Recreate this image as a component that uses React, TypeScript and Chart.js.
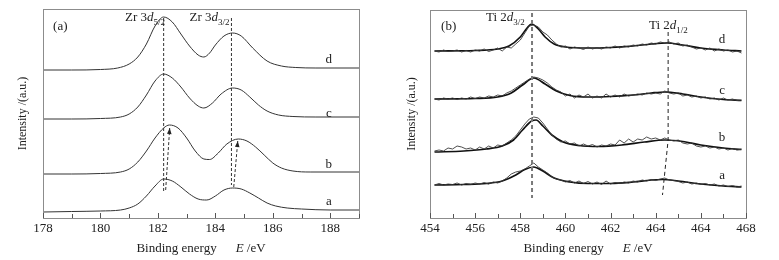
import React, { useEffect, useRef } from "react";
import { Chart, registerables } from "chart.js";
Chart.register(...registerables);

const FONT = '"Liberation Serif", "Times New Roman", serif';

// ---------- Panel (a): Zr 3d ----------
const zrTickLabels = ["178", "180", "182", "184", "186", "188"];
const zrCurveA: [number, number][] = [
  [178, 6], [179, 6.5], [180, 7], [180.7, 8], [181, 10], [181.3, 14], [181.6, 22], [181.9, 32], [182.2, 39],
  [182.5, 37], [182.8, 31], [183.1, 24], [183.4, 19], [183.7, 18], [184.0, 22], [184.3, 28], [184.6, 30],
  [184.9, 29], [185.2, 25], [185.5, 20], [185.8, 15], [186.1, 12], [186.5, 10], [187, 9], [188, 8], [189, 8],
];
const zrCurveB: [number, number][] = [
  [178, 44], [179, 44], [180, 44.5], [180.7, 46], [181, 49], [181.3, 56], [181.6, 67], [181.9, 80], [182.2, 90],
  [182.4, 93], [182.7, 90], [183.0, 80], [183.3, 67], [183.6, 59], [183.8, 58.5], [184.1, 65], [184.4, 74],
  [184.8, 79], [185.1, 77], [185.4, 71], [185.7, 63], [186.0, 55], [186.3, 50], [186.7, 47], [187.3, 46], [189, 46],
];
const zrCurveC: [number, number][] = [
  [178, 99], [179, 99], [180, 99.5], [180.7, 101], [181, 104], [181.3, 111], [181.6, 123], [181.9, 137], [182.2, 144],
  [182.5, 140], [182.8, 131], [183.1, 120], [183.4, 112], [183.6, 110], [183.9, 115], [184.2, 124], [184.6, 130],
  [184.9, 128], [185.2, 121], [185.5, 113], [185.8, 107], [186.2, 103], [186.7, 101.5], [187.5, 101], [189, 101],
];
const zrCurveD: [number, number][] = [
  [178, 148], [179, 148], [180, 148.5], [180.6, 150], [181, 154], [181.3, 161], [181.6, 174], [181.9, 192], [182.2, 201],
  [182.5, 196], [182.8, 184], [183.1, 172], [183.4, 163], [183.6, 161], [183.8, 165], [184.0, 173], [184.3, 182],
  [184.6, 185], [184.9, 182], [185.3, 170], [185.8, 157], [186.3, 152], [186.8, 150.5], [187.5, 150], [189, 150],
];
const zrGuideLeft: [number, number][] = [[182.2, 200], [182.2, 26]];
const zrGuideRight: [number, number][] = [[184.56, 200], [184.56, 33]];
const zrArrowLeft: [number, number][] = [[182.27, 28], [182.41, 90]];
const zrArrowRight: [number, number][] = [[184.64, 31], [184.78, 77]];

// ---------- Panel (b): Ti 2d ----------
const tiTickLabels = ["454", "456", "458", "460", "462", "464", "464", "468"];
const tiEnergy = [
  454.2, 454.4, 454.6, 454.8, 455.0, 455.2, 455.4, 455.6, 455.8, 456.0, 456.2, 456.4, 456.6, 456.8, 457.0, 457.2,
  457.4, 457.6, 457.8, 458.0, 458.2, 458.4, 458.6, 458.8, 459.0, 459.2, 459.4, 459.6, 459.8, 460.0, 460.2, 460.4,
  460.6, 460.8, 461.0, 461.2, 461.4, 461.6, 461.8, 462.0, 462.2, 462.4, 462.6, 462.8, 463.0, 463.2, 463.4, 463.6,
  463.8, 464.0, 464.2, 464.4, 464.6, 464.8, 465.0, 465.2, 465.4, 465.6, 465.8, 466.0, 466.2, 466.4, 466.6, 466.8,
  467.0, 467.2, 467.4, 467.6, 467.8,
];
const tiRawA = [
  33, 34.5, 33, 34, 33.5, 35, 33, 34.5, 33.5, 35, 34, 35.5, 34, 36, 35, 37,
  40, 44, 46, 47, 49, 52, 55, 51, 48, 45, 41, 39, 38, 36, 37.5, 35,
  37, 34.5, 36.5, 34, 36, 33.5, 37, 34, 35.5, 34.5, 36, 35, 37, 36,
  38, 37, 38.5, 37.5, 39, 40, 38, 37.5, 36.5, 35, 36, 34, 35, 33.5,
  34.5, 33, 34, 32, 33, 31.5, 32.5, 31, 32,
];
const tiRawB = [
  67, 68, 67, 70, 69, 72, 71, 69, 70, 68, 71, 69, 72, 70, 73, 72,
  75, 78, 82, 88, 94, 99, 101, 100, 95, 89, 83, 79, 76, 77, 74, 75,
  72, 74, 72, 73.5, 71, 73, 72, 74, 73, 78, 75, 79, 76, 79,
  78, 81, 79, 80, 78, 80, 78, 77, 78, 75, 74, 75, 72, 71,
  72, 70, 71, 69, 70, 68, 69.5, 68, 69,
];
const tiRawC = [
  119, 118, 120, 119, 120, 118.5, 120, 119, 121, 119.5, 121, 120, 122, 121, 123, 122,
  125, 127, 130, 133, 136, 139, 141, 140, 138, 135, 131, 128, 126, 122, 124, 120,
  123, 121, 124, 120, 122, 120, 124, 121, 123, 121, 124, 122, 123, 124,
  123, 125, 124, 125, 124, 127, 125, 124, 125, 122, 123, 121, 122, 120,
  121, 119, 120, 118, 120, 118, 119, 117.5, 118,
];
const tiRawD = [
  167, 166, 168, 166.5, 167, 168, 166, 167.5, 166, 168, 167, 169, 166.5, 168, 170, 167,
  171, 170, 174, 178, 185, 192, 193, 191, 186, 183, 178, 174, 171, 172, 169, 171,
  170, 168.5, 171, 169, 170.5, 169, 171, 170, 172, 170, 172, 171, 173, 172,
  174, 173, 175, 174, 176, 175, 176, 174, 175, 172, 173, 171, 169, 170,
  168, 170, 167, 169, 167, 168, 166, 167, 165,
];
const tiFitA: [number, number][] = [
  [454.2, 33], [455.5, 33.5], [456.5, 34.5], [457.2, 37], [457.8, 43], [458.2, 48.5], [458.6, 51], [459.0, 47],
  [459.5, 40], [460.2, 36], [461, 34.5], [462, 34.5], [463, 36], [463.8, 38], [464.3, 38.5], [465, 37], [466, 34],
  [467, 32], [467.8, 31],
];
const tiFitB: [number, number][] = [
  [454.2, 66], [455.5, 67], [456.5, 69], [457.2, 72], [457.7, 78], [458.1, 88], [458.5, 97], [458.7, 98], [459.0, 92],
  [459.4, 83], [459.9, 76], [460.6, 72.5], [461.5, 71.5], [462.5, 73], [463.5, 76], [464.4, 78], [465.2, 76.5],
  [466, 73], [467, 70], [467.8, 68.5],
];
const tiFitC: [number, number][] = [
  [454.2, 119], [456, 119.5], [457, 121], [457.6, 125], [458.1, 133], [458.6, 140], [459.1, 134], [459.6, 127],
  [460.2, 122.5], [461, 121], [462, 121.5], [463, 123], [463.8, 125], [464.4, 126], [465.2, 124], [466, 121],
  [467, 118.5], [467.8, 117.5],
];
const tiFitD: [number, number][] = [
  [454.2, 167], [456, 167.5], [457, 169], [457.5, 172], [458, 181], [458.3, 190], [458.5, 194], [458.8, 189],
  [459.1, 181], [459.5, 174], [460, 171], [461, 170], [462, 170.5], [463, 172], [463.8, 174], [464.5, 175],
  [465.2, 173], [466, 170], [467, 168], [467.8, 167],
];
const tiGuideLeft: [number, number][] = [[458.52, 205], [458.52, 20]];
const tiGuideRight: [number, number][] = [[464.55, 186], [464.55, 78], [464.3, 23]];

// ---------- drawing helpers ----------
type Part = [string, "n" | "i" | "s"];
type Txt = { x: number; y: number; parts: Part[]; align: "left" | "right" | "center" };
type Guide = { pts: [number, number][]; color: string; width: number; dash: number[]; arrow?: boolean };
type Curve = { pts: { x: number; y: number }[]; color: string; width: number; smooth: boolean };

interface PanelCfg {
  xMin: number;
  xMax: number;
  yMax: number;
  padTop: number;
  padRight: number;
  yWidth: number;
  tickLabel: (v: number) => string;
  curves: Curve[];
  guides: Guide[];
  texts: Txt[];
}

const fontFor = (s: string, size: number) =>
  s === "i" ? `italic ${size}px ${FONT}` : s === "s" ? `${Math.round(size * 0.68)}px ${FONT}` : `${size}px ${FONT}`;

function drawRich(ctx: CanvasRenderingContext2D, parts: Part[], x: number, yc: number, align: string, size: number) {
  let total = 0;
  const widths = parts.map(([t, s]) => {
    ctx.font = fontFor(s, size);
    const w = ctx.measureText(t).width;
    total += w;
    return w;
  });
  let cx = align === "right" ? x - total : align === "center" ? x - total / 2 : x;
  const base = yc + size * 0.33;
  ctx.textBaseline = "alphabetic";
  ctx.textAlign = "left";
  parts.forEach(([t, s], i) => {
    ctx.font = fontFor(s, size);
    ctx.fillText(t, cx, s === "s" ? base + size * 0.25 : base);
    cx += widths[i];
  });
}

function decorPlugin(cfg: PanelCfg) {
  return {
    id: "decor",
    afterDraw(chart: any) {
      const ctx: CanvasRenderingContext2D = chart.ctx;
      const { left, right, top, bottom } = chart.chartArea;
      const xs = chart.scales.x;
      const ys = chart.scales.y;
      ctx.save();
      // frame
      ctx.strokeStyle = "#8c8c8c";
      ctx.lineWidth = 1;
      ctx.strokeRect(Math.round(left) + 0.5, Math.round(top) + 0.5, Math.round(right - left), Math.round(bottom - top));
      // inward ticks
      ctx.strokeStyle = "#555";
      for (let v = Math.ceil(cfg.xMin); v <= cfg.xMax; v++) {
        const px = Math.round(xs.getPixelForValue(v)) + 0.5;
        const len = v % 2 === 0 ? 5 : 4;
        ctx.beginPath();
        ctx.moveTo(px, bottom);
        ctx.lineTo(px, bottom - len);
        ctx.stroke();
      }
      // arrow heads
      ctx.fillStyle = "#222";
      cfg.guides.forEach((g) => {
        if (!g.arrow) return;
        const n = g.pts.length;
        const x1 = xs.getPixelForValue(g.pts[n - 2][0]);
        const y1 = ys.getPixelForValue(g.pts[n - 2][1]);
        const x2 = xs.getPixelForValue(g.pts[n - 1][0]);
        const y2 = ys.getPixelForValue(g.pts[n - 1][1]);
        const a = Math.atan2(y2 - y1, x2 - x1);
        const L = 6, W = 2.3;
        ctx.beginPath();
        ctx.moveTo(x2, y2);
        ctx.lineTo(x2 - L * Math.cos(a) + W * Math.sin(a), y2 - L * Math.sin(a) - W * Math.cos(a));
        ctx.lineTo(x2 - L * Math.cos(a) - W * Math.sin(a), y2 - L * Math.sin(a) + W * Math.cos(a));
        ctx.closePath();
        ctx.fill();
      });
      // annotations
      ctx.fillStyle = "#222";
      cfg.texts.forEach((t) => {
        drawRich(ctx, t.parts, xs.getPixelForValue(t.x), ys.getPixelForValue(t.y), t.align, 13);
      });
      // x-axis title
      ctx.fillStyle = "#222";
      const size = 13;
      const p1 = "Binding energy";
      const gap = 19;
      const p2 = "E";
      const p3 = " /eV";
      ctx.font = fontFor("n", size);
      const w1 = ctx.measureText(p1).width;
      const w3 = ctx.measureText(p3).width;
      ctx.font = fontFor("i", size);
      const w2 = ctx.measureText(p2).width;
      const tot = w1 + gap + w2 + w3;
      let cx = (left + right) / 2 - tot / 2;
      const base = 252;
      ctx.textAlign = "left";
      ctx.textBaseline = "alphabetic";
      ctx.font = fontFor("n", size);
      ctx.fillText(p1, cx, base);
      cx += w1 + gap;
      ctx.font = fontFor("i", size);
      ctx.fillText(p2, cx, base);
      cx += w2;
      ctx.font = fontFor("n", size);
      ctx.fillText(p3, cx, base);
      ctx.restore();
    },
  };
}

function Panel({ cfg, width }: { cfg: PanelCfg; width: number }) {
  const ref = useRef<HTMLCanvasElement>(null);
  useEffect(() => {
    const datasets: any[] = [];
    cfg.guides.forEach((g) =>
      datasets.push({
        data: g.pts.map(([x, y]) => ({ x, y })),
        borderColor: g.color,
        borderWidth: g.width,
        borderDash: g.dash,
        pointRadius: 0,
        tension: 0,
        fill: false,
      })
    );
    cfg.curves.forEach((c) =>
      datasets.push({
        data: c.pts,
        borderColor: c.color,
        borderWidth: c.width,
        pointRadius: 0,
        fill: false,
        tension: 0,
        cubicInterpolationMode: c.smooth ? "monotone" : "default",
      })
    );
    const chart = new Chart(ref.current!, {
      type: "line",
      data: { datasets },
      options: {
        animation: false,
        responsive: false,
        devicePixelRatio: 1,
        layout: { padding: { left: 0, top: cfg.padTop, right: cfg.padRight, bottom: 0 } },
        plugins: { legend: { display: false }, tooltip: { enabled: false } },
        elements: { point: { radius: 0 } },
        scales: {
          x: {
            type: "linear",
            min: cfg.xMin,
            max: cfg.xMax,
            afterFit: (s: any) => {
              s.height = 42;
            },
            grid: { display: false, drawTicks: false },
            border: { display: false },
            ticks: {
              stepSize: 1,
              autoSkip: false,
              maxRotation: 0,
              padding: 3,
              color: "#222",
              font: { family: FONT, size: 13 },
              callback: (v: any) => cfg.tickLabel(Number(v)),
            },
          },
          y: {
            type: "linear",
            min: 0,
            max: cfg.yMax,
            afterFit: (s: any) => {
              s.width = cfg.yWidth;
            },
            grid: { display: false, drawTicks: false },
            border: { display: false },
            ticks: { display: false },
            title: {
              display: true,
              text: "Intensity /(a.u.)",
              color: "#222",
              font: { family: FONT, size: 12 },
              padding: { top: 16, bottom: 0 },
            },
          },
        },
      } as any,
      plugins: [decorPlugin(cfg) as any],
    });
    return () => chart.destroy();
  }, []);
  return <canvas ref={ref} width={width} height={260} style={{ display: "block", width, height: 260 }} />;
}

const toPts = (a: [number, number][]) => a.map(([x, y]) => ({ x, y }));
const rawPts = (ys: number[]) => tiEnergy.map((x, i) => ({ x, y: ys[i] }));

const zrCfg: PanelCfg = {
  xMin: 178,
  xMax: 189,
  yMax: 209,
  padTop: 9,
  padRight: 30,
  yWidth: 43,
  tickLabel: (v) => (Math.round(v) % 2 === 0 ? zrTickLabels[(Math.round(v) - 178) / 2] ?? "" : ""),
  curves: [zrCurveA, zrCurveB, zrCurveC, zrCurveD].map((c) => ({ pts: toPts(c), color: "#333", width: 1, smooth: true })),
  guides: [
    { pts: zrGuideLeft, color: "#333", width: 1, dash: [3, 2] },
    { pts: zrGuideRight, color: "#333", width: 1, dash: [3, 2] },
    { pts: zrArrowLeft, color: "#333", width: 1, dash: [3, 2], arrow: true },
    { pts: zrArrowRight, color: "#333", width: 1, dash: [3, 2], arrow: true },
  ],
  texts: [
    { x: 178.35, y: 192, parts: [["(a)", "n"]], align: "left" },
    { x: 182.25, y: 201, parts: [["Zr 3", "n"], ["d", "i"], ["5/2", "s"]], align: "right" },
    { x: 183.1, y: 201, parts: [["Zr 3", "n"], ["d", "i"], ["3/2", "s"]], align: "left" },
    { x: 187.95, y: 159, parts: [["d", "n"]], align: "center" },
    { x: 187.95, y: 105, parts: [["c", "n"]], align: "center" },
    { x: 187.95, y: 54, parts: [["b", "n"]], align: "center" },
    { x: 187.95, y: 17, parts: [["a", "n"]], align: "center" },
  ],
};

const tiCfg: PanelCfg = {
  xMin: 454,
  xMax: 468,
  yMax: 208,
  padTop: 10,
  padRight: 33,
  yWidth: 41,
  tickLabel: (v) => (Math.round(v) % 2 === 0 ? tiTickLabels[(Math.round(v) - 454) / 2] ?? "" : ""),
  curves: [
    ...[tiRawA, tiRawB, tiRawC, tiRawD].map((r) => ({ pts: rawPts(r), color: "#3a3a3a", width: 0.9, smooth: false })),
    ...[tiFitA, tiFitB, tiFitC, tiFitD].map((f) => ({ pts: toPts(f), color: "#111", width: 1.7, smooth: true })),
  ],
  guides: [
    { pts: tiGuideLeft, color: "#7a7a7a", width: 2, dash: [4, 3] },
    { pts: tiGuideRight, color: "#222", width: 1, dash: [4, 3] },
  ],
  texts: [
    { x: 454.49, y: 192, parts: [["(b)", "n"]], align: "left" },
    { x: 458.2, y: 201, parts: [["Ti 2", "n"], ["d", "i"], ["3/2", "s"]], align: "right" },
    { x: 463.7, y: 193, parts: [["Ti 2", "n"], ["d", "i"], ["1/2", "s"]], align: "left" },
    { x: 466.94, y: 179, parts: [["d", "n"]], align: "center" },
    { x: 466.94, y: 128, parts: [["c", "n"]], align: "center" },
    { x: 466.94, y: 81, parts: [["b", "n"]], align: "center" },
    { x: 466.94, y: 43, parts: [["a", "n"]], align: "center" },
  ],
};

export default function App() {
  return (
    <div
      style={{
        position: "absolute",
        left: 0,
        top: 0,
        width: 779,
        height: 260,
        background: "#fff",
        overflow: "hidden",
        display: "flex",
      }}
    >
      <Panel cfg={zrCfg} width={389} />
      <Panel cfg={tiCfg} width={390} />
    </div>
  );
}
